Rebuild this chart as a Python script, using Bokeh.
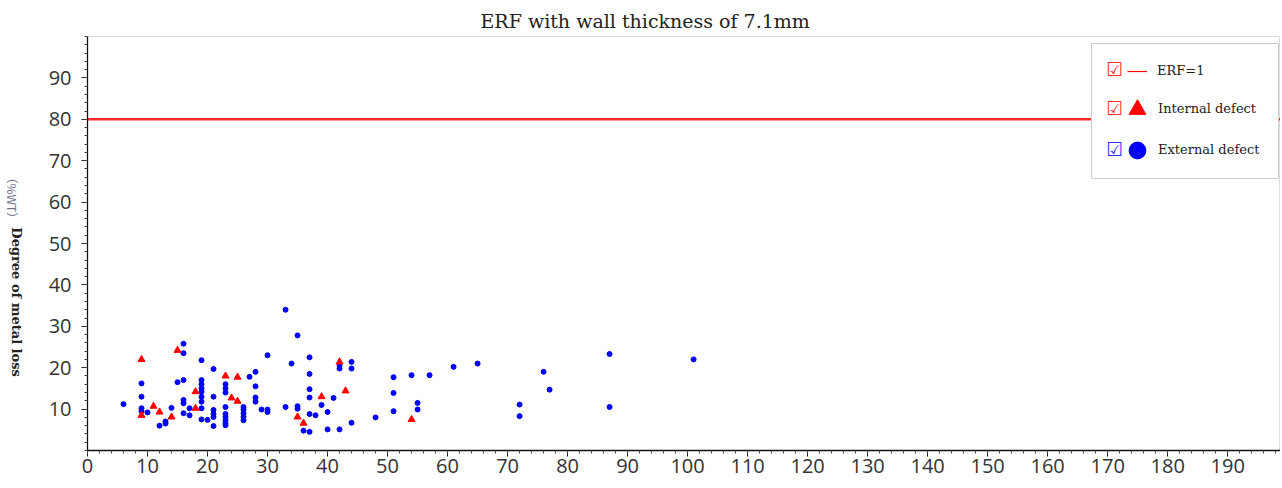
import math
from bokeh.plotting import figure
from bokeh.layouts import row
from bokeh.models import (FixedTicker, Label, BoxAnnotation, Legend, LegendItem, Range1d)
from bokeh.core.properties import value
from bokeh.embed import file_html
from bokeh.resources import INLINE

title_text = "ERF with wall thickness of 7.1mm"
y_unit = "（%WT）"
y_label = "Degree of metal loss"
erf_label = "ERF=1"
int_label = "Internal defect"
ext_label = "External defect"

erf_level = 80
x_min, x_max = 0, 198.8
y_min, y_max = 0, 100
x_ticks = list(range(0, 200, 10))
x_minor = list(range(0, 200, 2))
y_ticks = list(range(10, 100, 10))
y_minor = list(range(0, 101, 2))

# External defects (blue circles)
ext_x = [6, 9, 9, 9, 9, 10, 12, 13, 13, 14, 15,
         16, 16, 16, 16, 16, 16, 17, 17,
         19, 19, 19, 19, 19, 19, 19, 19, 19, 20,
         21, 21, 21, 21, 21, 21,
         23, 23, 23, 23, 23, 23, 23, 23, 23,
         26, 26, 26, 26, 26, 27, 28, 28, 28, 28, 29,
         30, 30, 30, 33, 33, 34, 35, 35, 35, 36,
         37, 37, 37, 37, 37, 37, 38, 39, 40, 40, 41,
         42, 42, 42, 44, 44, 44, 48, 51, 51, 51,
         54, 55, 55, 57, 61, 65, 72, 72, 76, 77, 87, 87, 101]
ext_y = [11.2, 16.2, 13.0, 10.2, 9.5, 9.2, 6.0, 7.0, 6.5, 10.3, 16.5,
         25.8, 23.5, 17.0, 12.2, 11.4, 9.0, 10.2, 8.5,
         21.8, 17.0, 16.0, 15.0, 14.2, 13.0, 11.8, 10.2, 7.5, 7.4,
         19.7, 13.0, 9.8, 8.8, 8.1, 5.9,
         16.0, 15.0, 14.0, 10.5, 8.8, 8.1, 7.3, 6.6, 6.1,
         10.5, 9.9, 9.0, 8.1, 7.3, 17.8, 19.0, 15.5, 12.8, 11.8, 9.9,
         23.0, 9.9, 9.3, 34.0, 10.5, 21.0, 27.8, 10.7, 10.1, 4.8,
         22.5, 18.5, 14.8, 12.8, 8.8, 4.5, 8.5, 11.0, 9.3, 5.1, 12.7,
         20.6, 19.8, 5.1, 21.4, 19.8, 6.7, 8.0, 17.7, 13.9, 9.5,
         18.2, 11.5, 9.9, 18.2, 20.2, 21.0, 11.1, 8.3, 19.0, 14.7, 23.3, 10.5, 22.0]

# Internal defects (red triangles)
int_x = [9, 9, 11, 12, 14, 15, 18, 18, 23, 24, 25, 25, 35, 36, 39, 42, 43, 54]
int_y = [22.0, 8.5, 10.7, 9.3, 8.1, 24.2, 14.2, 10.2, 18.0, 12.7, 17.7, 11.9,
         8.1, 6.6, 13.0, 21.4, 14.4, 7.5]

RED = "#ff0000"
BLUE = "#0000ff"
SERIF = "DejaVu Serif"
SANS = "Open Sans"

LEFT_W = 32
TOTAL_W = 1280
H = 486

p = figure(width=TOTAL_W - LEFT_W, height=H,
           x_range=Range1d(x_min, x_max), y_range=Range1d(y_min, y_max),
           output_backend="svg", toolbar_location=None,
           min_border_left=87 - LEFT_W, min_border_right=0,
           min_border_top=36, min_border_bottom=36)

p.title.text = title_text
p.title.align = "left"
p.title.offset = 393
p.title.text_font = SERIF
p.title.text_font_size = "19px"
p.title.text_font_style = "normal"
p.title.text_color = "#222222"

p.xgrid.visible = False
p.ygrid.visible = False
p.outline_line_color = "#dddddd"
p.background_fill_color = "white"
p.border_fill_color = "white"

for ax in (p.xaxis[0], p.yaxis[0]):
    ax.axis_line_color = "#111111"
    ax.axis_line_width = 1.3
    ax.major_tick_line_color = "#222222"
    ax.minor_tick_line_color = "#444444"
    ax.major_tick_out = 6
    ax.major_tick_in = 0
    ax.minor_tick_out = 3
    ax.minor_tick_in = 0
    ax.major_label_text_font = SANS
    ax.major_label_text_font_size = "20px"
    ax.major_label_text_color = "#333333"

p.xaxis[0].ticker = FixedTicker(ticks=x_ticks, minor_ticks=x_minor)
p.yaxis[0].ticker = FixedTicker(ticks=y_ticks, minor_ticks=y_minor)
p.xaxis[0].major_label_standoff = 2
p.yaxis[0].major_label_standoff = 10

# legend proxy for the ERF line (thin line drawn underneath the real one)
erf_proxy = p.line([x_min, x_max], [erf_level, erf_level], line_color=RED, line_width=1.2)
# ERF = 1 reference line
erf = p.line([x_min, x_max], [erf_level, erf_level], line_color="#ff2a2a", line_width=2.5)

ext = p.scatter(ext_x, ext_y, marker="circle", size=5, fill_color=BLUE, line_color=BLUE)
intr = p.scatter(int_x, int_y, marker="triangle", size=7, fill_color=RED, line_color=RED)

box = BoxAnnotation(left=1004, right=1191, top=407, bottom=272,
                    left_units="screen", right_units="screen",
                    top_units="screen", bottom_units="screen",
                    fill_color="white", fill_alpha=1.0,
                    line_color="#cccccc", line_width=1, line_alpha=1.0)
p.add_layout(box)

common = dict(padding=0, margin=0, border_line_alpha=0, background_fill_alpha=0,
              label_text_font=SERIF, label_text_font_size="13px",
              label_text_color="#222222", label_text_baseline="top",
              click_policy="none", spacing=0)

leg_erf = Legend(items=[LegendItem(label=erf_label, renderers=[erf_proxy])],
                 location=(1040, 369.5), glyph_width=20, glyph_height=20,
                 label_standoff=10, **common)
leg_int = Legend(items=[LegendItem(label=int_label, renderers=[intr])],
                 location=(1029, 320.5), glyph_width=42, glyph_height=42,
                 label_standoff=0, **common)
leg_ext = Legend(items=[LegendItem(label=ext_label, renderers=[ext])],
                 location=(1029, 279.5), glyph_width=42, glyph_height=42,
                 label_standoff=0, **common)
for lg in (leg_erf, leg_int, leg_ext):
    p.add_layout(lg)

for yy, col in ((382, "#ff3030"), (343, "#ff3030"), (302, "#3030ff")):
    p.add_layout(Label(x=1027, y=yy, x_units="screen", y_units="screen", text="☑",
                       text_align="center", text_baseline="middle",
                       text_font="DejaVu Sans", text_font_size="19px",
                       text_color=col))

# narrow strip on the left carrying the vertical (top-to-bottom) y-axis title
lf = figure(width=LEFT_W, height=H, x_range=Range1d(0, 1), y_range=p.y_range,
            output_backend="svg", toolbar_location=None,
            min_border_left=0, min_border_right=0,
            min_border_top=36, min_border_bottom=36)
lf.axis.visible = False
lf.xgrid.visible = False
lf.ygrid.visible = False
lf.outline_line_color = None
lf.background_fill_color = "white"
lf.border_fill_color = "white"

lf.text(x=[0.38], y=[67.4], text=[y_unit], angle=-math.pi / 2,
        text_align="left", text_baseline="middle",
        text_font=value("Noto Sans CJK SC"), text_font_size=value("12px"),
        text_color="#707088")
lf.text(x=[0.5], y=[53.9], text=[y_label], angle=-math.pi / 2,
        text_align="left", text_baseline="middle",
        text_font=value(SERIF), text_font_size=value("13px"),
        text_font_style=value("bold"), text_color="#222222")

layout = row(lf, p, spacing=0)
open("out.html", "w").write(file_html(layout, INLINE))
